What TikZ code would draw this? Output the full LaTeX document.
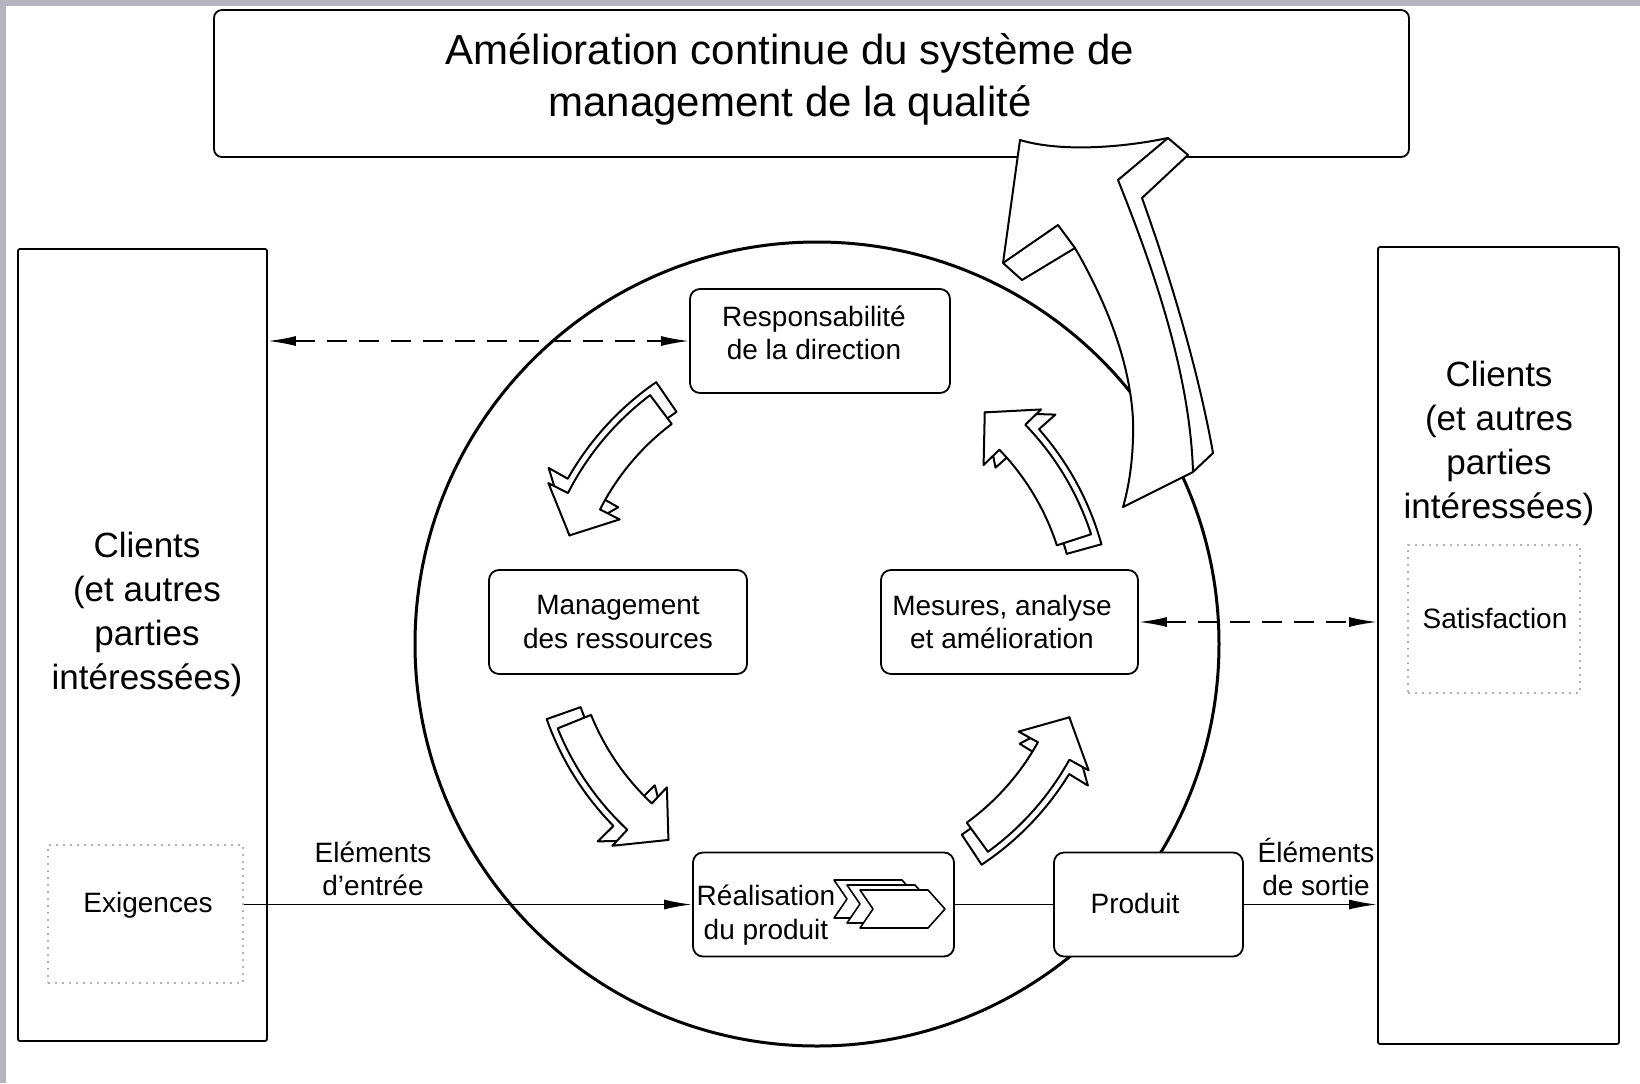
\documentclass[tikz,border=0pt]{standalone}
\usepackage{fontspec}
\setmainfont{Liberation Sans}
\usetikzlibrary{arrows.meta}
\definecolor{scanbar}{RGB}{182,180,190}
\newcommand{\fsmall}{\fontsize{14}{16.7}\selectfont}
\newcommand{\blockarc}[9]{%
  \path[cyc] (#1:#4) arc[start angle=#1, end angle=#2, radius=#4] -- (#2:#6) -- (#3:#8) -- (#2:#7) -- (#2:#5) arc[start angle=#2, end angle=#1, radius=#5] -- cycle;}
\newcommand{\cycpair}[3]{%
  \pgfmathsetmacro{\ba}{#1-2.5}\pgfmathsetmacro{\bb}{#2-2.5}%
  \blockarc{\ba}{\bb}{#3}{255}{291}{233}{313}{266}{}%
  \blockarc{#1}{#2}{#3}{248}{284}{226}{306}{266}{}}
\begin{document}
\begin{tikzpicture}[x=0.5pt,y=-0.5pt,
  procbox/.style={draw, line width=0.9pt, rounded corners=5pt, fill=white, minimum height=52pt, inner sep=0pt, align=center, font=\fsmall},
  bigbox/.style={draw, line width=0.9pt, rounded corners=1pt, fill=white, inner sep=0pt},
  dotbox/.style={draw=gray!60, line width=0.6pt, dash pattern=on 1pt off 2.5pt, inner sep=0pt},
  txt/.style={align=center, inner sep=0pt, font=\fsmall},
  clients/.style={align=center, inner sep=0pt, font=\fontsize{17.5}{22}\selectfont},
  cyc/.style={draw, fill=white, line width=1pt, line join=round},
  dasharrow/.style={line width=0.9pt, dash pattern=on 10pt off 6pt, {Latex[length=14pt,width=5pt]}-{Latex[length=14pt,width=5pt]}},
  flowarrow/.style={line width=0.9pt, -{Latex[length=14pt,width=5pt]}},
  chev/.style={draw, fill=white, line width=0.8pt, line join=round}]
\useasboundingbox (0,0) rectangle (1640,1083);
\fill[white] (0,0) rectangle (1640,1083);
\fill[scanbar] (0,0) rectangle (1640,6);
\fill[scanbar] (0,0) rectangle (6,1083);

% big circle
\draw[line width=1.5pt] (817,644) circle[radius=402];

% top box and title
\node[bigbox, rounded corners=4pt, minimum width=597.5pt, minimum height=73.5pt] (topbox) at (811.5,83.5) {};
\node[align=center, inner sep=0pt, font=\fontsize{21}{26}\selectfont] (title) at (790,79) {Amélioration continue du système de\\management de la qualité};

% big 3D arrow towards the top box
\path[draw, fill=white, line width=1pt, line join=round]
  (1020,140) -- (1003,263) -- (1022,280) -- (1075,248)
  .. controls (1105,300) and (1130,360) .. (1133,420)
  .. controls (1134,460) and (1128,490) .. (1123,507)
  -- (1193,472) -- (1213,453)
  .. controls (1200,380) and (1175,290) .. (1142,198)
  -- (1188,155) -- (1168,138)
  .. controls (1120,148) and (1060,152) .. (1020,140) -- cycle;
\draw[line width=1pt, line join=round] (1168,138) -- (1118,180) .. controls (1150,260) and (1190,370) .. (1193,472);
\draw[line width=1pt, line join=round] (1003,263) -- (1058,225) -- (1075,248);

% cycle arrows
\begin{scope}[shift={(821,622)}, yscale=-1]
  \cycpair{127}{153}{161}
  \cycpair{202}{227}{235}
  \cycpair{306}{331}{339}
  \cycpair{18}{44}{52}
\end{scope}

% side boxes
\node[bigbox, minimum width=124.5pt, minimum height=396pt] (lbox) at (142.5,645) {};
\node[bigbox, minimum width=120.5pt, minimum height=398.5pt] (rbox) at (1498.5,645.5) {};
\node[clients] (lclients) at (147,614) {Clients\\(et autres\\parties\\intéressées)};
\node[clients] (rclients) at (1499,443) {Clients\\(et autres\\parties\\intéressées)};
\node[dotbox, minimum width=97.5pt, minimum height=69pt] (exigbox) at (145.5,914) {};
\node[txt] (exig) at (148,905) {Exigences};
\node[dotbox, minimum width=86pt, minimum height=74pt] (satbox) at (1494,619) {};
\node[txt] (sat) at (1495,618) {Satisfaction};

% process boxes
\node[procbox, minimum width=130pt] (resp) at (820,341) {};
\node[txt] (resptxt) at (814,333) {Responsabilité\\de la direction};
\node[procbox, minimum width=129pt] (mgmt) at (618,622) {Management\\des ressources};
\node[procbox, minimum width=128.5pt] (mes) at (1009.5,622) {};
\node[txt] (mestxt) at (1002,622) {Mesures, analyse\\et amélioration};
\node[procbox, minimum width=130.5pt] (real) at (823.5,904.5) {};
\node[procbox, minimum width=94.5pt] (prod) at (1148.5,904.5) {};
\node[txt] (prodtxt) at (1135,903) {Produit};
\node[txt] (realtxt) at (766,915) {Réalisation\\du produit};

% chevrons
\foreach \dx/\dy in {-26/-10, -13/-5, 0/0} {
  \begin{scope}[shift={(\dx,\dy)}]
    \path[chev] (860,890) -- (928,890) -- (945,909) -- (928,928) -- (860,928) -- (873,909) -- cycle;
  \end{scope}
}

% connectors
\draw[dasharrow] (resp.west -| lbox.east) -- (resp.west);
\draw[dasharrow] (mes.east) -- (mes.east -| rbox.west);
\draw[flowarrow] (exigbox.east |- real.west) -- (real.west);
\draw[line width=0.9pt] (real.east) -- (prod.west);
\draw[flowarrow] (prod.east) -- (prod.east -| rbox.west);

\node[txt] (ein) at (373,869) {Eléments\\d'entrée};
\node[txt] (eout) at (1316,867) {Éléments\\de sortie};
\end{tikzpicture}
\end{document}
